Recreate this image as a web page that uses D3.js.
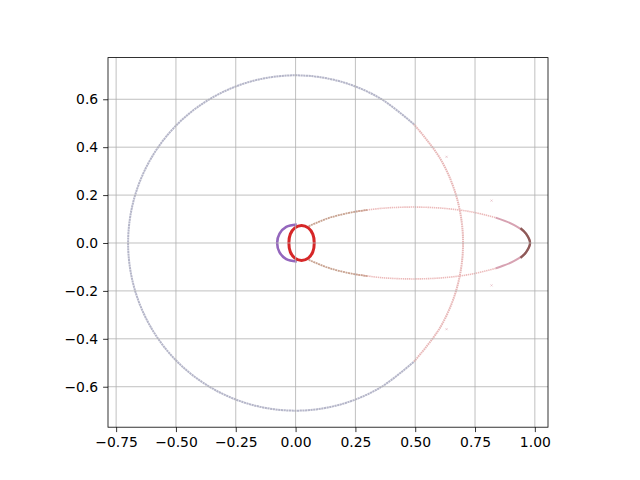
<!DOCTYPE html>
<html>
<head>
<meta charset="utf-8">
<script src="https://cdn.jsdelivr.net/npm/d3@7"></script>
<style>
  body { margin: 0; background: #fff; }
  svg { font-family: "DejaVu Sans", sans-serif; }
</style>
</head>
<body>
<script>
// orbit traces as [x, y]
const bigCircleLeft = [
  [0.495, 0.495], [0.35, 0.606], [0.181, 0.676], [0, 0.7], [-0.181, 0.676],
  [-0.35, 0.606], [-0.495, 0.495], [-0.606, 0.35], [-0.676, 0.181], [-0.7, 0],
  [-0.676, -0.181], [-0.606, -0.35], [-0.495, -0.495], [-0.35, -0.606],
  [-0.181, -0.676], [0, -0.7], [0.181, -0.676], [0.35, -0.606], [0.495, -0.495]
];
const bigCircleRight = [
  [0.495, -0.495], [0.606, -0.35], [0.676, -0.181], [0.7, 0],
  [0.676, 0.181], [0.606, 0.35], [0.495, 0.495]
];
const ellipseNearUpper = [[0.045, 0.065], [0.066, 0.075], [0.144, 0.106], [0.245, 0.13], [0.3, 0.138]];
const ellipseNearLower = [[0.045, -0.065], [0.066, -0.075], [0.144, -0.106], [0.245, -0.13], [0.3, -0.138]];
const ellipseMid = [
  [0.836, -0.106], [0.735, -0.13], [0.617, -0.145], [0.49, -0.15], [0.363, -0.145], [0.245, -0.13]
];
const ellipseMidUpper = [
  [0.245, 0.13], [0.363, 0.145], [0.49, 0.15], [0.617, 0.145], [0.735, 0.13], [0.836, 0.106]
];
const ellipseFar = [
  [0.836, 0.106], [0.914, 0.075], [0.963, 0.039], [0.98, 0],
  [0.963, -0.039], [0.914, -0.075], [0.836, -0.106]
];
const ellipseTip = [[0.94, 0.062], [0.963, 0.039], [0.98, 0], [0.963, -0.039], [0.94, -0.062]];
const innerLeft = [
  [0.005, 0.077], [-0.039, 0.067], [-0.067, 0.039], [-0.077, 0],
  [-0.067, -0.039], [-0.039, -0.067], [0.005, -0.077]
];
const innerRed = [
  [0.025, 0.073], [0.053, 0.063], [0.072, 0.037], [0.078, 0], [0.072, -0.037],
  [0.053, -0.063], [0.025, -0.073], [-0.003, -0.063], [-0.022, -0.037],
  [-0.028, 0], [-0.022, 0.037], [-0.003, 0.063]
];
const strayPoints = [[0.631, 0.36], [0.631, -0.36], [0.819, 0.177], [0.819, -0.177]];

const xTicks = [-0.75, -0.5, -0.25, 0, 0.25, 0.5, 0.75, 1.0];
const yTicks = [-0.6, -0.4, -0.2, 0, 0.2, 0.4, 0.6];

const width = 640, height = 480;
const margin = {left: 108, right: 92, top: 57.6, bottom: 52.8};
const iw = width - margin.left - margin.right;
const ih = height - margin.top - margin.bottom;

const x = d3.scaleLinear().domain([-0.784, 1.055]).range([0, iw]);
const y = d3.scaleLinear().domain([-0.769, 0.774]).range([ih, 0]);

const svg = d3.create("svg").attr("width", width).attr("height", height);
const g = svg.append("g").attr("transform", `translate(${margin.left},${margin.top})`);

const open = d3.line().x(d => x(d[0])).y(d => y(d[1])).curve(d3.curveCatmullRom);
const closed = d3.line().x(d => x(d[0])).y(d => y(d[1])).curve(d3.curveCatmullRomClosed);

const traces = [
  {pts: bigCircleLeft, line: open, color: "#b5b6c9", w: 2, dash: "2.2,0.5"},
  {pts: bigCircleRight, line: open, color: "#e8b8b8", w: 2, dash: "1.6,0.6"},
  {pts: ellipseMidUpper, line: open, color: "#ecbaba", w: 1.6, dash: "1.4,0.7"},
  {pts: ellipseMid, line: open, color: "#ecbaba", w: 1.6, dash: "1.4,0.7"},
  {pts: ellipseNearUpper, line: open, color: "#c9a492", w: 1.8, dash: "2,0.6"},
  {pts: ellipseNearLower, line: open, color: "#c9a492", w: 1.8, dash: "2,0.6"},
  {pts: ellipseFar, line: open, color: "#d7a2b2", w: 2, dash: null},
  {pts: ellipseTip, line: open, color: "#8e5a58", w: 2.4, dash: null},
  {pts: innerLeft, line: open, color: "#9467bd", w: 2.6, dash: null},
  {pts: innerRed, line: closed, color: "#d62728", w: 3, dash: null}
];

g.append("clipPath").attr("id", "plotclip")
  .append("rect").attr("width", iw).attr("height", ih);

const data = g.append("g").attr("clip-path", "url(#plotclip)");
data.selectAll("path.trace")
  .data(traces)
  .join("path")
  .attr("class", "trace")
  .attr("d", d => d.line(d.pts))
  .attr("fill", "none")
  .attr("stroke", d => d.color)
  .attr("stroke-width", d => d.w)
  .attr("stroke-dasharray", d => d.dash);

data.selectAll("path.stray")
  .data(strayPoints)
  .join("path")
  .attr("class", "stray")
  .attr("transform", d => `translate(${x(d[0])},${y(d[1])})`)
  .attr("d", "M-1,-1L1,1M-1,1L1,-1")
  .attr("stroke", "#e4b8c0")
  .attr("stroke-width", 0.7);

// grid over the scatter, as in the picture
const grid = g.append("g");
grid.selectAll("line.gx")
  .data(xTicks)
  .join("line")
  .attr("x1", d => x(d)).attr("x2", d => x(d))
  .attr("y1", 0).attr("y2", ih)
  .attr("stroke", "#b0b0b0").attr("stroke-width", 0.8);
grid.selectAll("line.gy")
  .data(yTicks)
  .join("line")
  .attr("y1", d => y(d)).attr("y2", d => y(d))
  .attr("x1", 0).attr("x2", iw)
  .attr("stroke", "#b0b0b0").attr("stroke-width", 0.8);

const fmt = d => d3.format(".2f")(d).replace("-", "\u2212");
const fmtY = d => d3.format(".1f")(d).replace("-", "\u2212");

const xAxis = g.append("g")
  .attr("transform", `translate(0,${ih})`)
  .call(d3.axisBottom(x).tickValues(xTicks).tickFormat(fmt).tickSize(4.9).tickPadding(4.9));
const yAxis = g.append("g")
  .call(d3.axisLeft(y).tickValues(yTicks).tickFormat(fmtY).tickSize(4.9).tickPadding(4.9));

[xAxis, yAxis].forEach(a => {
  a.select(".domain").remove();
  a.selectAll("line").attr("stroke", "#000").attr("stroke-width", 0.8);
  a.selectAll("text")
    .attr("font-family", "DejaVu Sans, sans-serif")
    .attr("font-size", 13.9)
    .attr("fill", "#000");
});

g.append("rect")
  .attr("width", iw).attr("height", ih)
  .attr("fill", "none")
  .attr("stroke", "#000")
  .attr("stroke-width", 0.8);

document.body.append(svg.node());
</script>
</body>
</html>
